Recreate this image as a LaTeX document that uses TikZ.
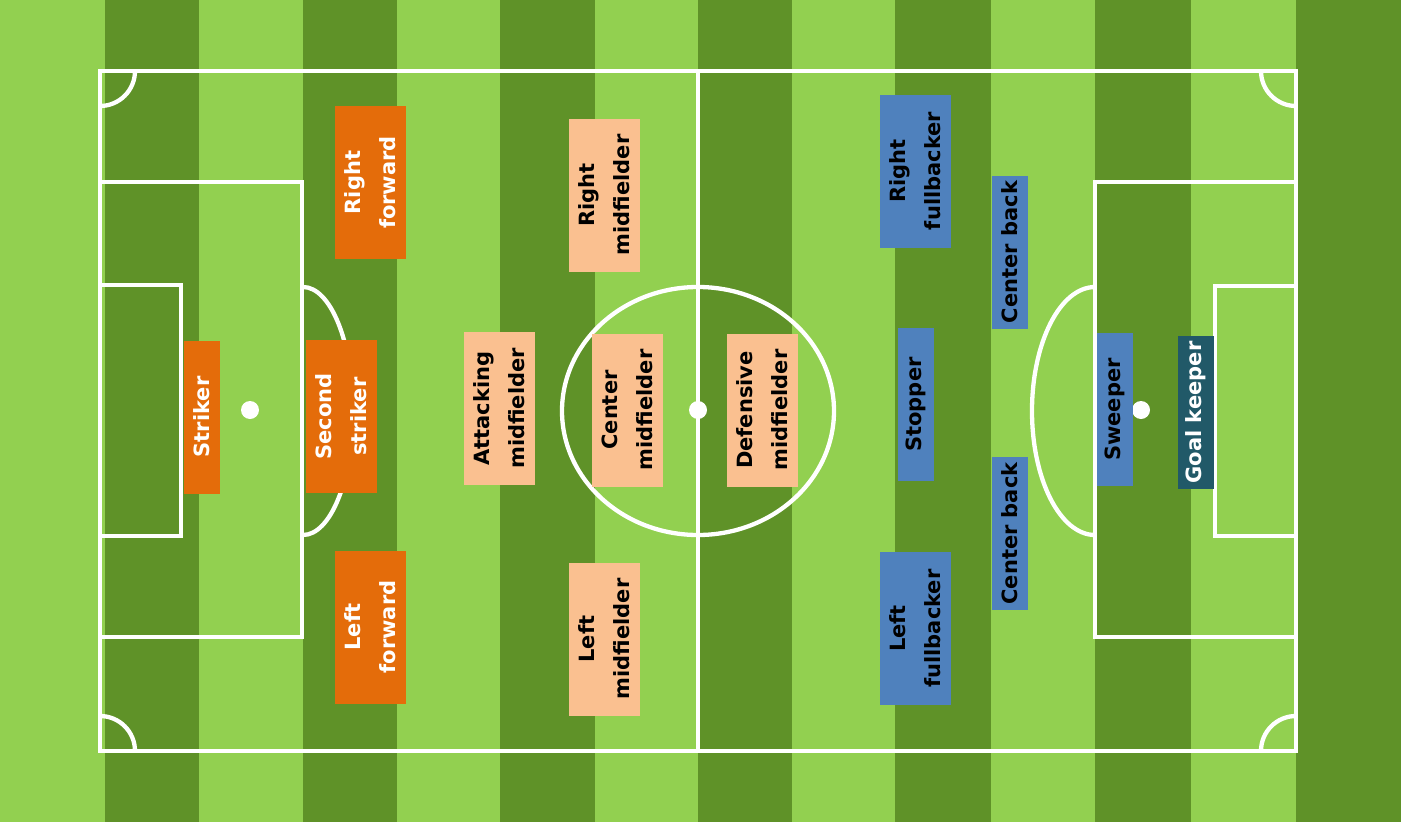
\documentclass[tikz,border=0pt]{standalone}
\usepackage{fontspec}
\setmainfont{DejaVu Sans}
\definecolor{grassL}{HTML}{92D050}
\definecolor{grassD}{HTML}{5F9228}
\definecolor{fwd}{HTML}{E46C0A}
\definecolor{mid}{HTML}{FAC090}
\definecolor{dfn}{HTML}{4F81BD}
\definecolor{gk}{HTML}{215968}
\tikzset{
  pitchline/.style={draw=white,line width=4.3pt},
  player/.style={rotate=90,inner sep=0pt,minimum width=153pt,align=center,
    font=\fontsize{21}{35}\selectfont\bfseries},
  wide/.style={minimum height=71pt},
  narrow/.style={minimum height=36pt},
  fwdbox/.style={player,fill=fwd,text=white},
  midbox/.style={player,fill=mid,text=black},
  dfnbox/.style={player,fill=dfn,text=black},
  gkbox/.style={player,fill=gk,text=white},
  spot/.style={fill=white}
}
\begin{document}
\begin{tikzpicture}[x=1pt,y=-1pt]
\useasboundingbox (0,0) rectangle (1401,822);
% stripes
\fill[grassL] (0,0) rectangle (1401,822);
\foreach \a/\b in {105/199,303/397,500/595,698/792,895/991,1095/1191,1296/1401}
  \fill[grassD] (\a,0) rectangle (\b,822);
% pitch lines
\draw[pitchline] (100,71) rectangle (1296,751);
\draw[pitchline] (698,71) -- (698,751);
\draw[pitchline] (100,182) rectangle (302,637);
\draw[pitchline] (100,285) rectangle (181,536);
\draw[pitchline] (1095,182) rectangle (1296,637);
\draw[pitchline] (1215,286) rectangle (1296,536);
\draw[pitchline] (698,411) ellipse [x radius=136,y radius=124];
\draw[pitchline] (303,287) arc[start angle=-90,end angle=90,x radius=50,y radius=124];
\draw[pitchline] (1095,287) arc[start angle=270,end angle=90,x radius=63,y radius=124];
\draw[pitchline] (135,71) arc[start angle=0,end angle=90,radius=35];
\draw[pitchline] (1261,71) arc[start angle=180,end angle=90,radius=35];
\draw[pitchline] (135,751) arc[start angle=0,end angle=-90,radius=35];
\draw[pitchline] (1261,751) arc[start angle=180,end angle=270,radius=35];
\fill[spot] (250,410) circle (9);
\fill[spot] (698,410) circle (9);
\fill[spot] (1141,410) circle (9);
% players
\node[fwdbox,wide]   (rf)  at (370,182.5) {Right\\forward};
\node[fwdbox,narrow] (st)  at (202,417)   {Striker};
\node[fwdbox,wide]   (ss)  at (341,416.5) {Second\\striker};
\node[fwdbox,wide]   (lf)  at (370.5,627) {Left\\forward};
\node[midbox,wide]   (rm)  at (604.5,195) {Right\\midfielder};
\node[midbox,wide]   (am)  at (499,408.5) {Attacking\\midfielder};
\node[midbox,wide]   (cm)  at (627.5,410) {Center\\midfielder};
\node[midbox,wide]   (dm)  at (762.5,410) {Defensive\\midfielder};
\node[midbox,wide]   (lm)  at (604.5,639) {Left\\midfielder};
\node[dfnbox,wide]   (rb)  at (915.5,171) {Right\\fullbacker};
\node[dfnbox,narrow] (cb1) at (1009.5,252) {Center back};
\node[dfnbox,narrow] (sp)  at (915.5,404.5) {Stopper};
\node[dfnbox,narrow] (cb2) at (1009.5,533.5) {Center back};
\node[dfnbox,wide]   (lb)  at (915.5,628.5) {Left\\fullbacker};
\node[dfnbox,narrow] (sw)  at (1114.5,409.5) {Sweeper};
\node[gkbox,narrow]  (gk)  at (1195.5,412.5) {Goal keeper};
\end{tikzpicture}
\end{document}
